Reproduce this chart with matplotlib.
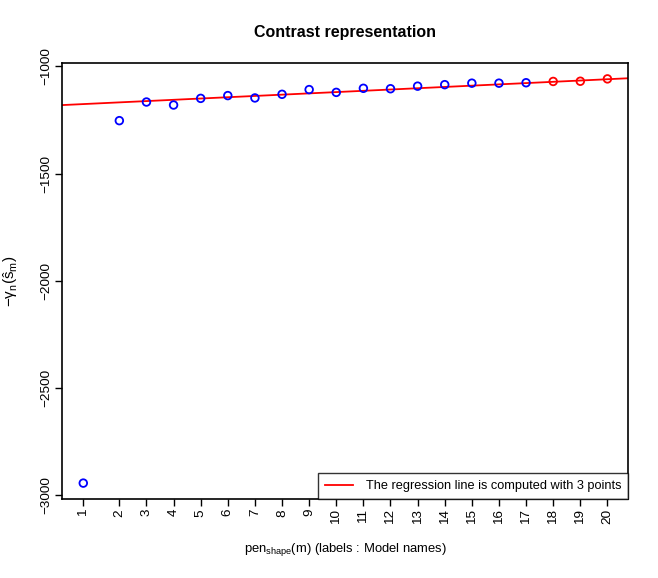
import numpy as np
import matplotlib
matplotlib.use('Agg')
import matplotlib.pyplot as plt

plt.rcParams['font.family'] = ['Liberation Sans', 'DejaVu Sans']
plt.rcParams['mathtext.fontset'] = 'custom'
plt.rcParams['mathtext.rm'] = 'Liberation Sans'
plt.rcParams['mathtext.it'] = 'Liberation Sans:italic'

# pen_shape(m) for each model, and the contrast values
models = [str(i) for i in range(1, 21)]
pen = [0.67, 2, 3, 4, 5, 6, 7, 8, 9, 10, 11, 12, 13, 14, 15, 16, 17, 18, 19, 20]
contrast = [-2945, -1253, -1166, -1180, -1149, -1136, -1147, -1130, -1108, -1121,
            -1102, -1104, -1092, -1085, -1078, -1078, -1076, -1070, -1069, -1058]
n_reg = 3  # points used for the regression line

x = np.array(pen)
y = np.array(contrast)

fig = plt.figure(figsize=(6.58, 5.78), dpi=100)
ax = fig.add_axes([0.0947, 0.1362, 0.955 - 0.0947, 0.8915 - 0.1362])

# R style 4% padding
xr = x.max() - x.min()
yr = y.max() - y.min()
ax.set_xlim(x.min() - 0.04 * xr, x.max() + 0.04 * xr)
ax.set_ylim(y.min() - 0.04 * yr, y.max() + 0.04 * yr)

#Точки: синие обычные, красные для регрессии.
ax.scatter(x[:-n_reg], y[:-n_reg], s=30, facecolors='none', edgecolors='blue', linewidths=1.3, zorder=3)
ax.scatter(x[-n_reg:], y[-n_reg:], s=30, facecolors='none', edgecolors='red', linewidths=1.3, zorder=3)

slope, intercept = np.polyfit(x[-n_reg:], y[-n_reg:], 1)
xl = np.array(ax.get_xlim())
ax.plot(xl, intercept + slope * xl, color='red', lw=1.3,
        label='The regression line is computed with %d points' % n_reg)

ax.set_xticks(x)
ax.set_xticklabels(models, rotation=90, fontsize=9.7)
ax.set_yticks([-3000, -2500, -2000, -1500, -1000])
ax.set_yticklabels(['\u22123000', '\u22122500', '\u22122000', '\u22121500', '\u22121000'],
                   rotation=90, va='center', fontsize=9.7)
ax.tick_params(direction='out', length=5, width=1, pad=2)

for s in ax.spines.values():
    s.set_linewidth(1.2)

fig.text(0.5 * (0.0947 + 0.955), 1 - 32 / 578, 'Contrast representation',
         ha='center', va='center', fontsize=11.5, fontweight='bold')
fig.text(0.5 * (0.0947 + 0.955), 1 - 549 / 578, r'pen$_{\mathrm{shape}}$(m) (labels : Model names)',
         ha='center', va='center', fontsize=9.4)
fig.text(11 / 658, 0.5 * (0.1362 + 0.8915), r'$-\mathrm{\gamma}_\mathrm{n}(\hat{\mathrm{s}}_\mathrm{m})$',
         ha='center', va='center', rotation=90, fontsize=11)

leg = ax.legend(loc='lower right', borderaxespad=0, fancybox=False, fontsize=9.2,
                handlelength=2.2, borderpad=0.55, handletextpad=1.0)
leg.get_frame().set_edgecolor('black')
leg.get_frame().set_linewidth(1.0)

fig.savefig('out.png', dpi=100)
